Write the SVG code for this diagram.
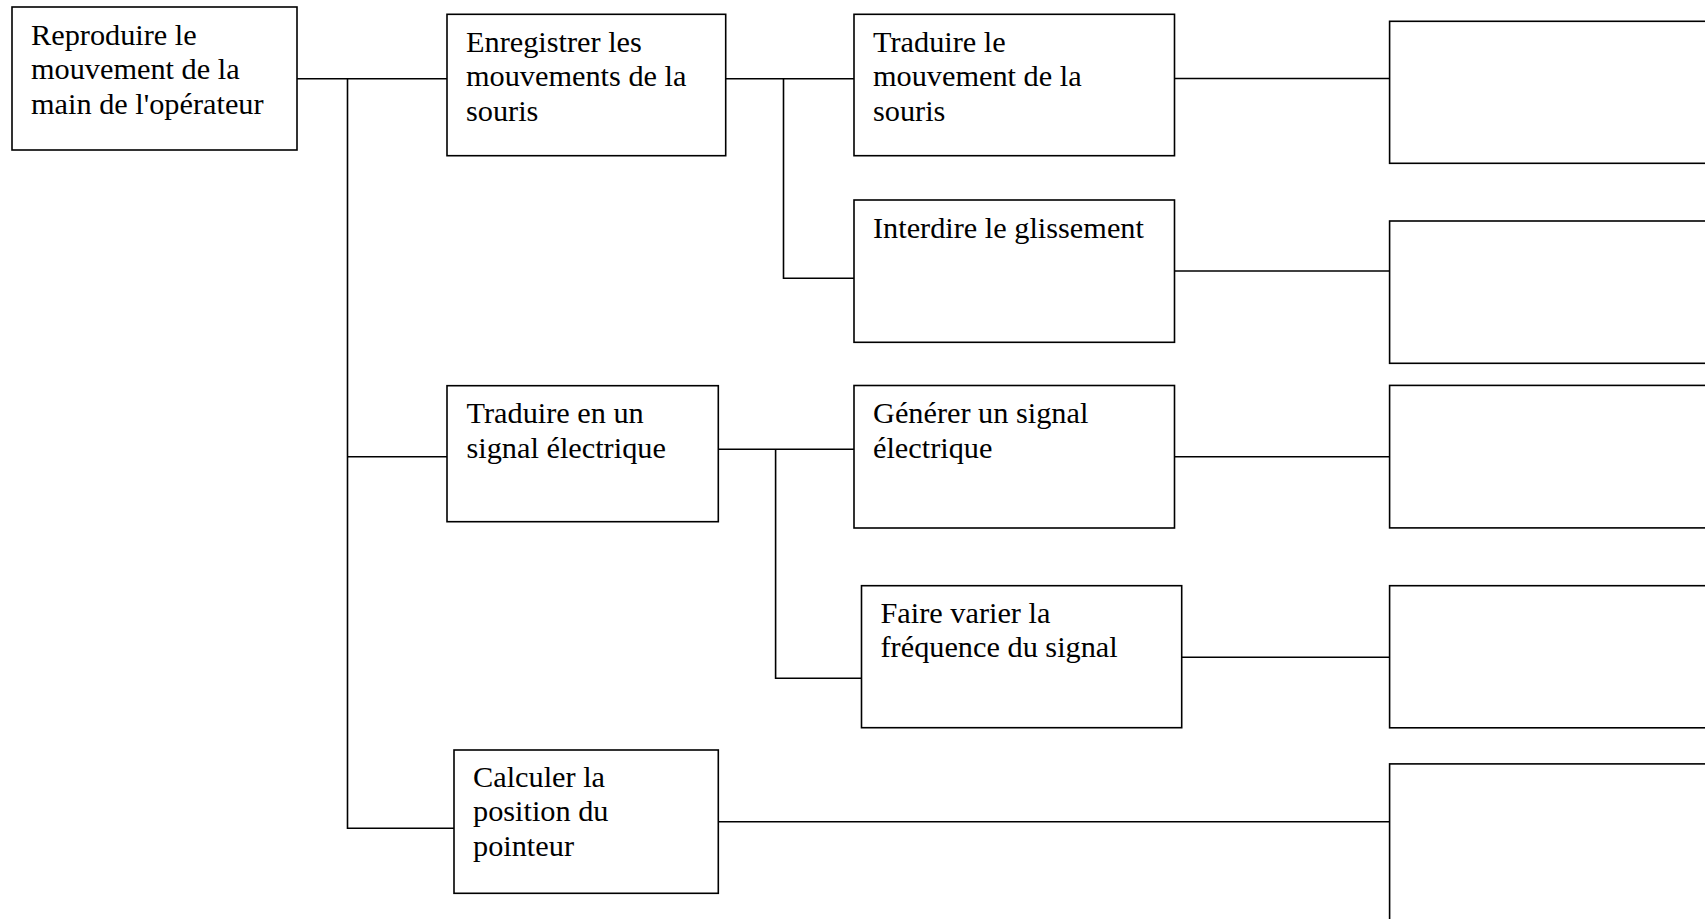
<svg xmlns="http://www.w3.org/2000/svg" width="1705" height="919" viewBox="0 0 1705 919">
<style>
.box{fill:#fff;stroke:#000;stroke-width:1.6}
.lbl{font-family:"Liberation Serif","Times New Roman",serif;font-size:30.3px;fill:#000}
.con{fill:none;stroke:#000;stroke-width:1.6}
</style>
<rect width="1705" height="919" fill="#fff"/>
<g id="connectors">
<path class="con" d="M297 78.7H447"/>
<path class="con" d="M347.5 78.7V828.3H454"/>
<path class="con" d="M347.5 456.7H447"/>
<path class="con" d="M725.7 78.7H854"/>
<path class="con" d="M783.5 78.7V278.3H854"/>
<path class="con" d="M1174.5 78.5H1389.6"/>
<path class="con" d="M1174.5 271H1389.6"/>
<path class="con" d="M718.3 449.3H854"/>
<path class="con" d="M775.6 449.3V678.3H861.5"/>
<path class="con" d="M1174.5 456.8H1389.6"/>
<path class="con" d="M1181.7 657.2H1389.6"/>
<path class="con" d="M718.3 821.7H1389.6"/>
</g>
<g id="root">
<rect class="box" x="12" y="7" width="285" height="143"/>
<text class="lbl" x="31" y="44.5">Reproduire le</text>
<text class="lbl" x="31" y="79">mouvement de la</text>
<text class="lbl" x="31" y="113.5">main de l'opérateur</text>
</g>
<g id="enregistrer">
<rect class="box" x="447" y="14.3" width="278.7" height="141.4"/>
<text class="lbl" x="466" y="51.5">Enregistrer les</text>
<text class="lbl" x="466" y="86">mouvements de la</text>
<text class="lbl" x="466" y="120.5">souris</text>
</g>
<g id="traduire-mouvement">
<rect class="box" x="854" y="14.3" width="320.5" height="141.4"/>
<text class="lbl" x="873" y="51.5">Traduire le</text>
<text class="lbl" x="873" y="86">mouvement de la</text>
<text class="lbl" x="873" y="120.5">souris</text>
</g>
<g id="interdire">
<rect class="box" x="854" y="200" width="320.5" height="142.3"/>
<text class="lbl" x="873" y="237.5">Interdire le glissement</text>
</g>
<g id="traduire-signal">
<rect class="box" x="447" y="385.7" width="271.3" height="136"/>
<text class="lbl" x="466.5" y="423">Traduire en un</text>
<text class="lbl" x="466.5" y="457.5">signal électrique</text>
</g>
<g id="generer">
<rect class="box" x="854" y="385.5" width="320.5" height="142.5"/>
<text class="lbl" x="873" y="423">Générer un signal</text>
<text class="lbl" x="873" y="457.5">électrique</text>
</g>
<g id="faire-varier">
<rect class="box" x="861.5" y="585.7" width="320.2" height="142"/>
<text class="lbl" x="880.5" y="622.5">Faire varier la</text>
<text class="lbl" x="880.5" y="657">fréquence du signal</text>
</g>
<g id="calculer">
<rect class="box" x="454" y="750" width="264.3" height="143.3"/>
<text class="lbl" x="473" y="786.5">Calculer la</text>
<text class="lbl" x="473" y="821">position du</text>
<text class="lbl" x="473" y="855.5">pointeur</text>
</g>
<g id="right-1"><rect class="box" x="1389.6" y="21.3" width="340" height="142"/></g>
<g id="right-2"><rect class="box" x="1389.6" y="221" width="340" height="142.3"/></g>
<g id="right-3"><rect class="box" x="1389.6" y="385.4" width="340" height="142.5"/></g>
<g id="right-4"><rect class="box" x="1389.6" y="585.7" width="340" height="142.1"/></g>
<g id="right-5"><rect class="box" x="1389.6" y="763.9" width="340" height="200"/></g>
</svg>
